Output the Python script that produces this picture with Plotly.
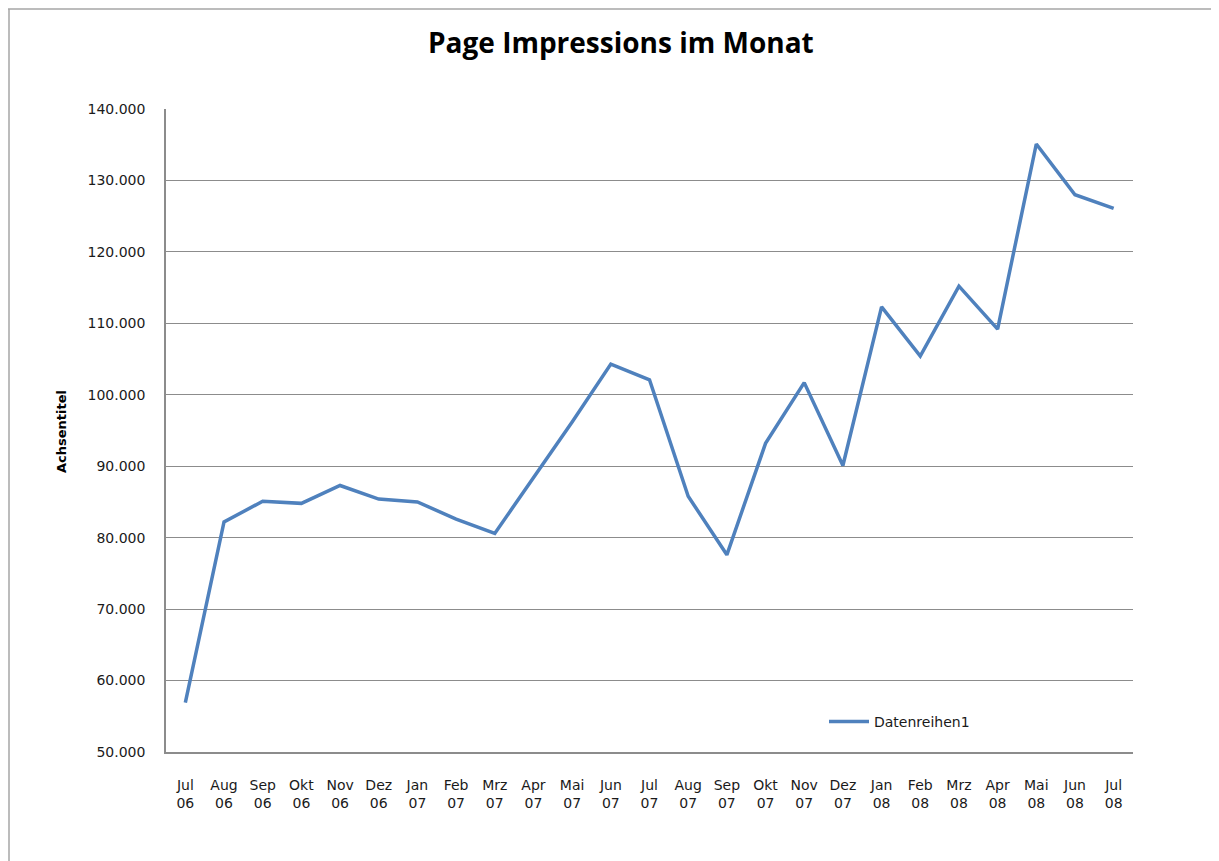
import plotly.graph_objects as go

months = ["Jul<br>06", "Aug<br>06", "Sep<br>06", "Okt<br>06", "Nov<br>06", "Dez<br>06",
          "Jan<br>07", "Feb<br>07", "Mrz<br>07", "Apr<br>07", "Mai<br>07", "Jun<br>07",
          "Jul<br>07", "Aug<br>07", "Sep<br>07", "Okt<br>07", "Nov<br>07", "Dez<br>07",
          "Jan<br>08", "Feb<br>08", "Mrz<br>08", "Apr<br>08", "Mai<br>08", "Jun<br>08",
          "Jul<br>08"]
impressions = [56900, 82200, 85100, 84800, 87300, 85400,
               85000, 82600, 80600, 88300, 96200, 104300,
               102100, 85800, 77600, 93200, 101700, 90100,
               112300, 105400, 115200, 109200, 135100, 128000,
               126100]
y_ticks = [50000, 60000, 70000, 80000, 90000, 100000, 110000, 120000, 130000, 140000]
y_labels = ["50.000", "60.000", "70.000", "80.000", "90.000", "100.000",
            "110.000", "120.000", "130.000", "140.000"]

# page has an 8px body margin; size the figure so the plot lands where the reference has it
OFF = 8
W, H = 1211, 853
L, R, T, B = 158, 86, 101, 109
PW, PH = W - L - R, H - T - B
X0, Y1 = OFF + L, OFF + T + PH   # screen x of plot left, screen y of plot bottom


def fx(px):
    return (px - X0) / PW


def fy(py):
    return (Y1 - py) / PH


FONT = "DejaVu Sans, Verdana, sans-serif"

fig = go.Figure()
fig.add_trace(go.Scatter(
    x=list(range(len(months))), y=impressions, mode="lines",
    name="Datenreihen1",
    line=dict(color="#4F81BD", width=3.5),
))

fig.update_layout(
    width=W, height=H,
    margin=dict(l=L, r=R, t=T, b=B),
    paper_bgcolor="white", plot_bgcolor="white",
    font=dict(family=FONT, size=14, color="#1a1a1a"),
    showlegend=True,
    legend=dict(x=fx(824), y=fy(722),
                xanchor="left", yanchor="middle",
                bgcolor="rgba(0,0,0,0)", font=dict(size=14, color="#1a1a1a"),
                itemwidth=40),
    xaxis=dict(
        range=[-0.5, len(months) - 0.5],
        tickmode="array", tickvals=list(range(len(months))), ticktext=months,
        showgrid=False, zeroline=False,
        showline=True, linecolor="#8c8c8c", linewidth=1.5,
        ticks="", tickfont=dict(size=14, color="#1a1a1a"),
        ticklabelstandoff=19,
    ),
    yaxis=dict(
        range=[50000, 140000],
        tickmode="array", tickvals=y_ticks, ticktext=y_labels,
        showgrid=True, gridcolor="#8c8c8c", gridwidth=1,
        zeroline=False,
        showline=True, linecolor="#8c8c8c", linewidth=1.5,
        ticks="", tickfont=dict(size=14, color="#1a1a1a"),
        ticklabelstandoff=16,
    ),
)

fig.add_annotation(
    text="<b>Page Impressions im Monat</b>", xref="paper", yref="paper",
    x=fx(621), y=fy(42),
    xanchor="center", yanchor="middle", showarrow=False,
    font=dict(size=28, color="black", family="Open Sans, sans-serif"),
)
fig.add_annotation(
    text="<b>Achsentitel</b>", xref="paper", yref="paper",
    x=fx(62), y=fy(432),
    xanchor="center", yanchor="middle", textangle=-90, showarrow=False,
    font=dict(size=13, color="black", family=FONT),
)

# outer chart frame (top and left edges visible in the reference)
fig.add_shape(type="line", xref="paper", yref="paper",
              x0=fx(8), x1=fx(1230), y0=fy(9), y1=fy(9),
              line=dict(color="#a6a6a6", width=1.5))
fig.add_shape(type="line", xref="paper", yref="paper",
              x0=fx(9), x1=fx(9), y0=fy(9), y1=fy(870),
              line=dict(color="#a6a6a6", width=1.5))

fig.write_html("out.html")
